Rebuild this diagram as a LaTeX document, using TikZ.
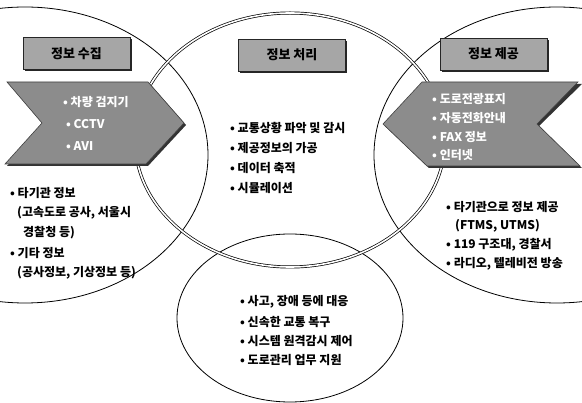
\documentclass[tikz,border=0pt]{standalone}
\usepackage{fontspec}
\newfontfamily\kr{Noto Sans CJK KR}
\usetikzlibrary{shadows}
\begin{document}
\begin{tikzpicture}[x=1pt,y=-1pt,
  ring/.style={draw=black, line width=0.8pt},
  mainring/.style={draw=black, line width=0.7pt, double=white, double distance=1.6pt},
  body/.style={font=\kr\bfseries\fontsize{12}{14}\selectfont, anchor=west, inner sep=0pt},
  arrowtxt/.style={font=\kr\bfseries\fontsize{12}{14}\selectfont, text=white, anchor=west, inner sep=0pt},
  chevron/.style={fill=black!45, draw=black!75, line width=0.6pt},
  chevshadow/.style={fill=black!80},
  titlebox/.style={draw=black!85, line width=0.8pt, fill=black!35,
    minimum width=107pt, minimum height=32pt, inner sep=0pt,
    font=\kr\bfseries\fontsize{13}{15}\selectfont,
    general shadow={fill=black!85, shadow xshift=1.6pt, shadow yshift=-1.6pt}}
]
\path[use as bounding box] (0,0) rectangle (582,403);

% outer circles
\draw[ring] (25,155) ellipse [x radius=183pt, y radius=148pt];
\draw[ring] (557,155) ellipse [x radius=183pt, y radius=148pt];
\draw[ring] (290,318) ellipse [x radius=113pt, y radius=84pt];
% central circle (double line)
\draw[mainring] (290,140) ellipse [x radius=155pt, y radius=127pt];

% left chevron
\fill[chevshadow] (9,84) -- (150,84) -- (186,125) -- (148,166) -- (7,166) -- (44,125) -- cycle;
\path[chevron] (7,82) -- (148,82) -- (184,123) -- (146,164) -- (5,164) -- (42,123) -- cycle;
% right chevron
\fill[chevshadow] (424,84) -- (582,84) -- (539,126) -- (582,168) -- (429,168) -- (385,126) -- cycle;
\path[chevron] (422,82) -- (578,82) -- (537,124) -- (580,166) -- (427,166) -- (383,124) -- cycle;

% title boxes
\node[titlebox] (t1) at (76.5,53.5) {정보 수집};
\node[titlebox] (t2) at (292,55) {정보 처리};
\node[titlebox] (t3) at (493.5,54) {정보 제공};

% left chevron texts
\node[arrowtxt] (l1) at (63,102) {• 차량 검지기};
\node[arrowtxt] (l2) at (66,124) {• CCTV};
\node[arrowtxt] (l3) at (66,146) {• AVI};

% right chevron texts
\node[arrowtxt] (r1) at (432,99) {• 도로전광표지};
\node[arrowtxt] (r2) at (432,118) {• 자동전화안내};
\node[arrowtxt] (r3) at (432,137) {• FAX 정보};
\node[arrowtxt] (r4) at (432,155) {• 인터넷};

% left body
\node[body] (a1) at (10,193) {• 타기관 정보};
\node[body] (a2) at (17,213) {(고속도로 공사, 서울시};
\node[body] (a3) at (23,233) {경찰청 등)};
\node[body] (a4) at (10,253) {• 기타 정보};
\node[body] (a5) at (17,273) {(공사정보, 기상정보 등)};

% center body
\node[body] (c1) at (230,128) {• 교통상황 파악 및 감시};
\node[body] (c2) at (230,148) {• 제공정보의 가공};
\node[body] (c3) at (230,168) {• 데이터 축적};
\node[body] (c4) at (230,188) {• 시뮬레이션};

% right body
\node[body] (b1) at (446,207) {• 타기관으로 정보 제공};
\node[body] (b2) at (455,226) {(FTMS, UTMS)};
\node[body] (b3) at (446,245) {• 119 구조대, 경찰서};
\node[body] (b4) at (446,264) {• 라디오, 텔레비전 방송};

% bottom body
\node[body] (d1) at (240,302) {• 사고, 장애 등에 대응};
\node[body] (d2) at (240,322) {• 신속한 교통 복구};
\node[body] (d3) at (240,341) {• 시스템 원격감시 제어};
\node[body] (d4) at (240,360) {• 도로관리 업무 지원};
\end{tikzpicture}
\end{document}
